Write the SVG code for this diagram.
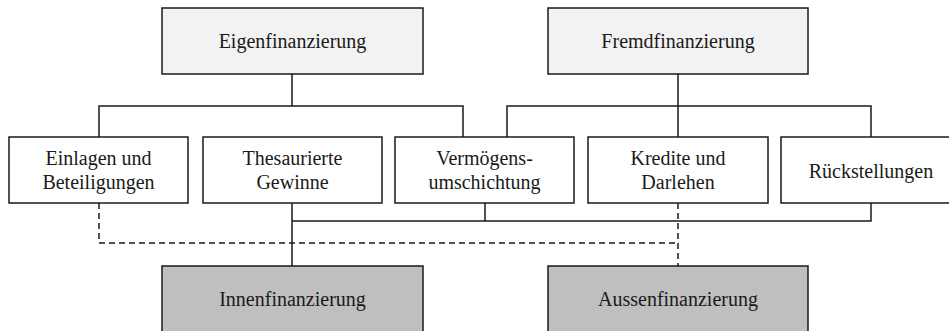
<svg xmlns="http://www.w3.org/2000/svg" width="949" height="331" viewBox="0 0 949 331">
<style>
.box{stroke:#1a1a1a;stroke-width:1.5}
.top{fill:#f2f2f2}
.mid{fill:#ffffff}
.bot{fill:#bfbfbf}
.t{font-family:"Liberation Serif","Times New Roman",serif;font-size:20px;fill:#1a1a1a;text-anchor:middle}
.c{fill:none;stroke:#1a1a1a;stroke-width:1.5}
.d{stroke-dasharray:6,4}
</style>
<rect width="949" height="331" fill="#ffffff"/>
<g id="connectors">
<path class="c" d="M292,74 V106 M99,137 V106 H463 V137"/>
<path class="c" d="M678,74 V137 M507,137 V106 H871 V137"/>
<path class="c" d="M292,203 V266 M292,221 H871 V203 M485,203 V221"/>
<path class="c d" d="M99,203 V243 H678 M678,203 V266"/>
</g>
<g id="eigenfinanzierung"><rect class="box top" x="162" y="8" width="261" height="66"/><text class="t" x="292.5" y="48">Eigenfinanzierung</text></g>
<g id="fremdfinanzierung"><rect class="box top" x="548" y="8" width="260" height="66"/><text class="t" x="678" y="48">Fremdfinanzierung</text></g>
<g id="einlagen"><rect class="box mid" x="9" y="137" width="179" height="66"/><text class="t" x="98.5" y="165">Einlagen und</text><text class="t" x="98.5" y="189">Beteiligungen</text></g>
<g id="thesaurierte"><rect class="box mid" x="203" y="137" width="179" height="66"/><text class="t" x="292.5" y="165">Thesaurierte</text><text class="t" x="292.5" y="189">Gewinne</text></g>
<g id="vermoegens"><rect class="box mid" x="395" y="137" width="179" height="66"/><text class="t" x="484.5" y="165">Vermögens-</text><text class="t" x="484.5" y="189">umschichtung</text></g>
<g id="kredite"><rect class="box mid" x="588" y="137" width="180" height="66"/><text class="t" x="678" y="165">Kredite und</text><text class="t" x="678" y="189">Darlehen</text></g>
<g id="rueckstellungen"><rect class="box mid" x="781" y="137" width="180" height="66"/><text class="t" x="871" y="178">Rückstellungen</text></g>
<g id="innenfinanzierung"><rect class="box bot" x="162" y="266" width="261" height="68"/><text class="t" x="292.5" y="306">Innenfinanzierung</text></g>
<g id="aussenfinanzierung"><rect class="box bot" x="548" y="266" width="260" height="68"/><text class="t" x="678" y="306">Aussenfinanzierung</text></g>
</svg>
